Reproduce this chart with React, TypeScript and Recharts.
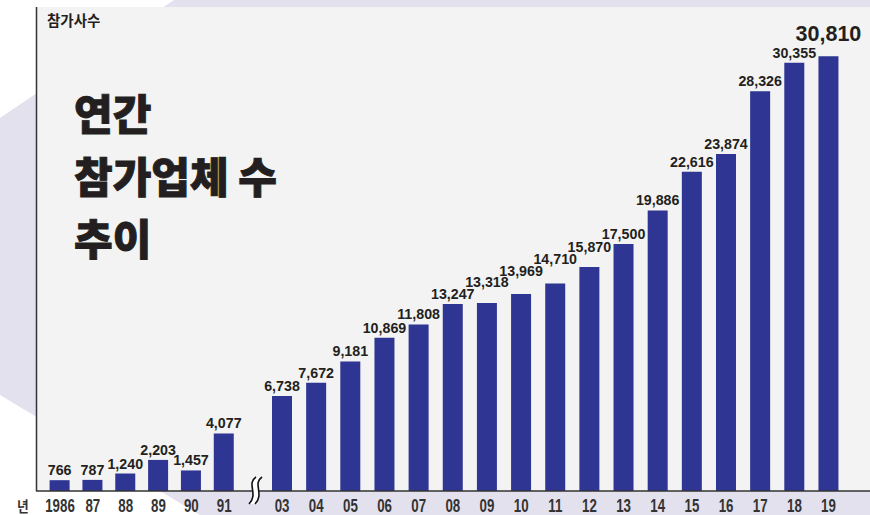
import { BarChart, Bar, XAxis, YAxis, LabelList } from 'recharts'

// 1986–1991 and 2003–2019, the axis is broken between them
const earlyYears = ['1986', '87', '88', '89', '90', '91']
const earlyCounts = [766, 787, 1240, 2203, 1457, 4077]

const lateYears = ['03', '04', '05', '06', '07', '08', '09', '10', '11', '12', '13', '14', '15', '16', '17', '18', '19']
const lateCounts = [6738, 7672, 9181, 10869, 11808, 13247, 13318, 13969, 14710, 15870, 17500, 19886, 22616, 23874, 28326, 30355, 30810]

const BAR_COLOR = '#2e3592'
const INK = '#231f20'
const Y_MAX = 34300
const PLOT_TOP = 7
const PLOT_H = 484
const PEAK = Math.max(...lateCounts)
const LATIN = "'Liberation Sans', Arial, sans-serif"
const HANGUL = "'Noto Sans CJK KR', sans-serif"

const LABEL_SIZE = 15
const LABEL_SQUEEZE = 0.95
const PEAK_SIZE = 21.5
const LABEL_GAP = 5

const earlyData = earlyYears.map((year, i) => ({ year, count: earlyCounts[i] }))
const lateData = lateYears.map((year, i) => ({ year, count: lateCounts[i] }))

const fmt = (v: number) => v.toLocaleString('en-US')
const fontOf = (v: number) => (v === PEAK ? PEAK_SIZE : LABEL_SIZE)

// rough label width for Arial-like bold digits
function labelWidth(v: number) {
  const s = fmt(v)
  const em = [...s].reduce((w, c) => w + (c === ',' ? 0.278 : 0.556), 0)
  return v === PEAK ? em * PEAK_SIZE : em * LABEL_SIZE * LABEL_SQUEEZE
}

// when a label would collide with the one to its left, push it up above it
function labelLifts(values: number[], band: number) {
  const px = PLOT_H / Y_MAX
  const lifts = new Map<number, number>()
  let prevBase = Infinity
  values.forEach((v, i) => {
    const natural = PLOT_TOP + PLOT_H - v * px - LABEL_GAP
    let base = natural
    if (i > 0) {
      const overlapX = (labelWidth(v) + labelWidth(values[i - 1])) / 2 - band
      const need = fontOf(v) * 0.716 + 1
      if (overlapX > 4 && base > prevBase - need) base = prevBase - need
    }
    lifts.set(v, natural - base)
    prevBase = base
  })
  return lifts
}

// condensed bold year labels under the axis
function YearTick(props: any) {
  const { x, y, payload } = props
  return (
    <g transform={`translate(${x},${y + 21})`}>
      <text transform="scale(0.74,1)" textAnchor="middle" fill="#333" fontSize={18} fontWeight={700} fontFamily={LATIN}>
        {payload.value}
      </text>
    </g>
  )
}

function ValueLabel(props: any) {
  const { x, y, width, value, lifts } = props
  const peak = value === PEAK
  const lift = lifts.get(value) ?? 0
  return (
    <g transform={`translate(${x + width / 2},${y - LABEL_GAP - lift})`}>
      <text
        transform={peak ? undefined : `scale(${LABEL_SQUEEZE},1)`}
        textAnchor="middle"
        fill={INK}
        fontSize={fontOf(value)}
        fontWeight={700}
        fontFamily={LATIN}
      >
        {fmt(Number(value))}
      </text>
    </g>
  )
}

function Segment({ data, width, padLeft, padRight }: { data: Array<{ year: string; count: number }>; width: number; padLeft: number; padRight: number }) {
  const band = (width - padLeft - padRight) / data.length
  const lifts = labelLifts(data.map((d) => d.count), band)
  return (
    <BarChart width={width} height={515} data={data} margin={{ top: PLOT_TOP, right: padRight, left: padLeft, bottom: 0 }}>
      <XAxis dataKey="year" axisLine={false} tickLine={false} tickSize={0} tickMargin={0} height={24} tick={<YearTick />} interval={0} />
      <YAxis hide domain={[0, Y_MAX]} />
      <Bar dataKey="count" fill={BAR_COLOR} barSize={20} isAnimationActive={false}>
        <LabelList dataKey="count" content={(p: any) => <ValueLabel {...p} lifts={lifts} />} />
      </Bar>
    </BarChart>
  )
}

export default function App() {
  return (
    <div style={{ position: 'relative', width: 870, height: 515, overflow: 'hidden', background: '#fff' }}>
      <style>{'body{margin:0}'}</style>

      {/* backdrop shape and grey panel */}
      <svg width={870} height={515} style={{ position: 'absolute', left: 0, top: 0 }}>
        <polygon points="174,0 870,0 870,515 200,515 0,395 0,118" fill="#e3e1ee" />
        <rect x={36} y={7} width={834} height={484} fill="#f3f3f3" />
      </svg>

      <div style={{ position: 'absolute', left: 30, top: 0 }}>
        <Segment data={earlyData} width={220} padLeft={13.6} padRight={9.4} />
      </div>
      <div style={{ position: 'absolute', left: 250, top: 0 }}>
        <Segment data={lateData} width={620} padLeft={15} padRight={24.4} />
      </div>

      {/* axes, break mark and text */}
      <svg width={870} height={515} style={{ position: 'absolute', left: 0, top: 0, pointerEvents: 'none' }}>
        <line x1={36.5} y1={7} x2={36.5} y2={491} stroke="#333" strokeWidth={1.5} />
        <line x1={36} y1={491} x2={870} y2={491} stroke="#333" strokeWidth={1.5} />
        <path d="M 256 477 C 246 484, 259 494, 249 504 L 255 504 C 265 494, 252 484, 262 477 Z" fill="#fff" />
        <path d="M 256 477 C 246 484, 259 494, 249 504" fill="none" stroke="#111" strokeWidth={1.6} />
        <path d="M 262 477 C 252 484, 265 494, 255 504" fill="none" stroke="#111" strokeWidth={1.6} />

        <text x={47} y={26} fontSize={14.5} fontWeight={700} fill={INK} fontFamily={HANGUL}>
          참가사수
        </text>
        <g transform="translate(17,512)">
          <text transform="scale(0.85,1)" fontSize={15} fontWeight={700} fill="#333" fontFamily={HANGUL}>
            년
          </text>
        </g>

        <g fontSize={42} fontWeight={900} fill={INK} stroke={INK} strokeWidth={0.9} fontFamily={HANGUL}>
          <text x={74} y={130}>연간</text>
          <text x={74} y={193}>참가업체 수</text>
          <text x={74} y={255}>추이</text>
        </g>
      </svg>
    </div>
  )
}
